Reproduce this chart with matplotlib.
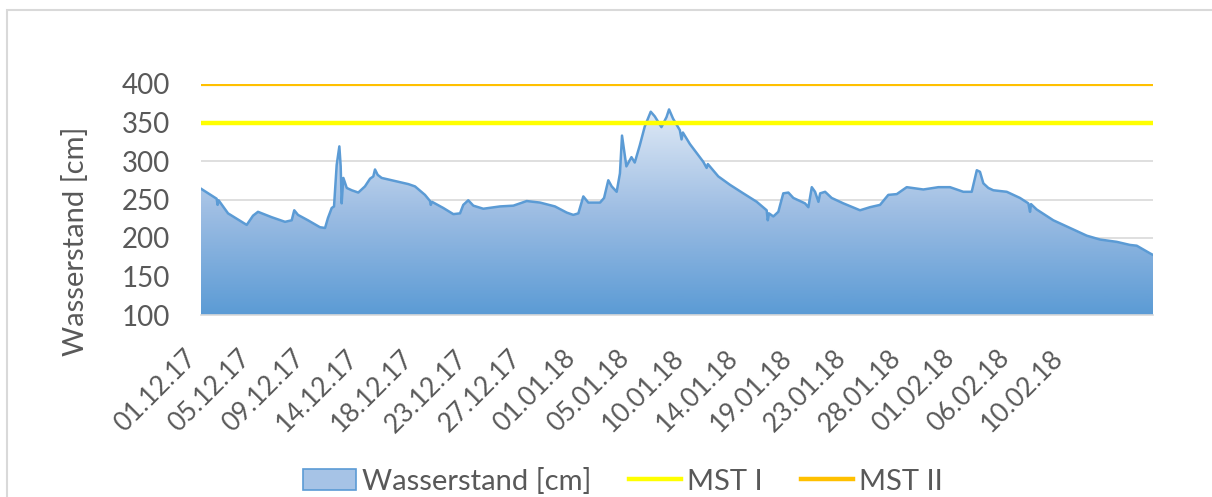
import numpy as np
import matplotlib.pyplot as plt
from matplotlib.lines import Line2D
from matplotlib.patches import Rectangle, Patch
from matplotlib.colors import LinearSegmentedColormap

# water level readings, x in days since 01.12.17
days = [0.0, 1.29, 1.37, 1.45, 2.23, 3.77, 4.29, 4.70, 5.83, 6.93, 7.48, 7.69,
        8.0, 8.82, 9.81, 10.23, 10.47, 10.78, 10.97, 11.19, 11.41, 11.52, 11.60,
        11.74, 12.02, 12.43, 12.97, 13.52, 13.94, 14.21, 14.35, 14.57, 14.90,
        16.0, 17.10, 17.65, 18.47, 18.89, 18.95, 19.05, 19.98, 20.81, 21.36,
        21.63, 22.04, 22.46, 23.28, 24.66, 25.76, 26.86, 27.96, 29.19, 30.16,
        30.70, 31.12, 31.53, 31.94, 32.91, 33.24, 33.59, 33.87, 34.28, 34.55,
        34.72, 35.08, 35.50, 35.77, 36.18, 36.60, 37.09, 37.42, 37.97, 38.39,
        38.60, 38.93, 39.49, 39.63, 39.74, 40.32, 41.42, 41.70, 41.80, 42.66,
        43.63, 44.72, 45.83, 46.65, 46.74, 46.84, 47.20, 47.61, 48.02, 48.44,
        48.85, 49.81, 50.09, 50.37, 50.64, 50.92, 51.06, 51.47, 52.01, 52.97,
        54.35, 55.17, 56.0, 56.68, 57.38, 58.20, 59.57, 60.81, 61.77, 62.87,
        63.56, 63.98, 64.24, 64.52, 64.93, 65.34, 66.45, 67.54, 68.23, 68.37,
        68.45, 68.92, 70.29, 71.67, 73.05, 74.14, 75.52, 76.61, 77.17, 78.27,
        78.51]
level = [264, 251, 243, 249, 232, 217, 229, 234, 227, 221, 223, 236,
         230, 223, 214, 213, 226, 239, 241, 295, 319, 293, 245,
         278, 265, 262, 259, 267, 277, 280, 289, 282, 278,
         274, 270, 267, 256, 248, 243, 247, 239, 231, 232,
         243, 249, 242, 238, 241, 242, 248, 246, 241, 233,
         230, 232, 254, 246, 246, 252, 275, 267, 260, 284,
         333, 293, 305, 298, 320, 345, 364, 358, 344, 357,
         367, 355, 340, 328, 337, 322, 299, 291, 296, 280,
         269, 258, 247, 236, 223, 232, 228, 234, 258, 259,
         252, 245, 240, 266, 260, 247, 258, 260, 252, 245,
         236, 240, 243, 256, 257, 266, 263, 266, 266, 260,
         260, 288, 286, 271, 265, 262, 260, 252, 245, 234,
         244, 237, 223, 213, 203, 198, 195, 191, 190, 180,
         178]

mst_1 = 350
mst_2 = 400

tick_labels = ['01.12.17', '05.12.17', '09.12.17', '14.12.17', '18.12.17',
               '23.12.17', '27.12.17', '01.01.18', '05.01.18', '10.01.18',
               '14.01.18', '19.01.18', '23.01.18', '28.01.18', '01.02.18',
               '06.02.18', '10.02.18']
tick_step = 4.47

y_ticks = [100, 150, 200, 250, 300, 350, 400]

grey_text = '#595959'
blue = '#5B9BD5'
plt.rcParams['font.family'] = ['Lato', 'DejaVu Sans']

fig = plt.figure(figsize=(12.12, 4.97), dpi=100)
ax = fig.add_axes([201 / 1212, 1 - 315 / 497, 952 / 1212, 231 / 497])

x = np.array(days)
y = np.array(level)
x_end = x[-1]

# gradient fill clipped to the area under the curve
grad = LinearSegmentedColormap.from_list('wl', ['#5B9BD5', '#9DBDE3', '#E0EAF6'])
area = ax.fill_between(x, 100, y, facecolor='none', edgecolor='none', zorder=2)
img = ax.imshow(np.linspace(0, 1, 256).reshape(-1, 1), cmap=grad, aspect='auto',
                origin='lower', extent=[0, x_end, 100, max(level)], zorder=2)
img.set_clip_path(area.get_paths()[0], transform=ax.transData)
ax.plot(x, y, color=blue, lw=1.8, zorder=3, solid_joinstyle='round')

ax.axhline(mst_1, color='#FFFF00', lw=3.2, zorder=4)
ax.axhline(mst_2, color='#FFC000', lw=2.3, zorder=4)

ax.set_xlim(0, x_end)
ax.set_ylim(100, 400)
ax.set_yticks(y_ticks)
ax.yaxis.grid(True, color='#D9D9D9', lw=1.2, zorder=0)
ax.set_axisbelow(True)
for s in ['top', 'right', 'left']:
    ax.spines[s].set_visible(False)
ax.spines['bottom'].set_color('#D9D9D9')
ax.spines['bottom'].set_linewidth(1.2)

ax.set_xticks(np.arange(len(tick_labels)) * tick_step)
ax.set_xticklabels(tick_labels, rotation=45, ha='right', va='top',
                   fontsize=19, color=grey_text)
ax.tick_params(axis='x', length=0, pad=22)
ax.tick_params(axis='y', length=0, pad=22, labelsize=20, labelcolor=grey_text)
ax.set_ylabel('Wasserstand [cm]', fontsize=21, color=grey_text, va='center')
ax.yaxis.set_label_coords(-0.132, 0.32)

handles = [Patch(facecolor='#A6C3E6', edgecolor=blue, lw=1.2),
           Line2D([], [], color='#FFFF00', lw=3.2),
           Line2D([], [], color='#FFC000', lw=3.2)]
fig.legend(handles, ['Wasserstand [cm]', 'MST I', 'MST II'], loc='center',
           bbox_to_anchor=(623 / 1212, 1 - 481 / 497), ncol=3, frameon=False,
           fontsize=21, labelcolor=grey_text, handlelength=1.8,
           handleheight=0.75, handletextpad=0.2, columnspacing=1.3,
           borderpad=0.1)

# outer frame of the chart area
fig.add_artist(Rectangle((7 / 1212, -0.1), 1.2, 1.1 - 10 / 497,
                         transform=fig.transFigure, fill=False,
                         edgecolor='#D9D9D9', lw=1.5))

fig.savefig('out.png', dpi=100)
